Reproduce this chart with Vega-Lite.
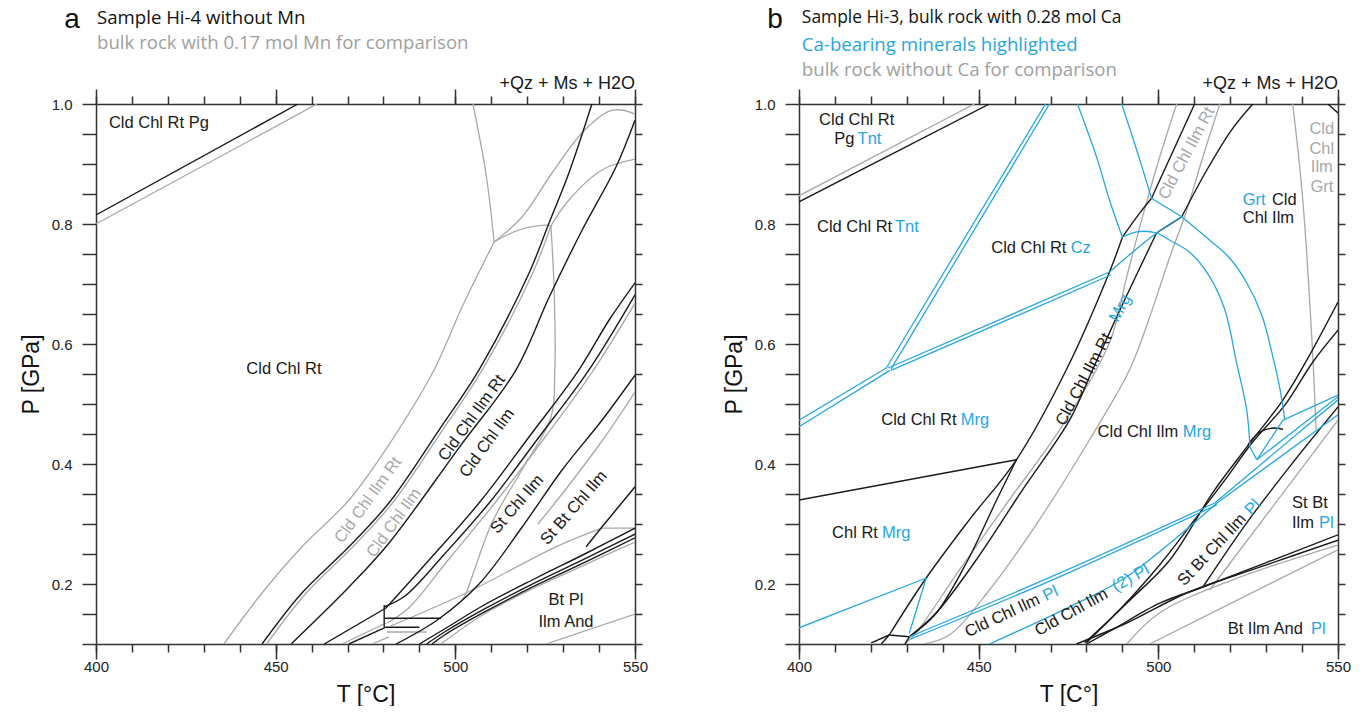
{
"$schema":"https://vega.github.io/schema/vega-lite/v6.json",
"padding":{"left":20,"top":6,"right":0,"bottom":0},
"background":"white",
"spacing":164,
"bounds":"flush",
"config":{"view":{"stroke":null},"text":{"font":"Liberation Sans"}},
"datasets":{
"a_g":[
{"id":"g1","o":0,"T":400,"P":0.8},{"id":"g1","o":1,"T":461.5,"P":1.0},
{"id":"g2","o":0,"T":435.6,"P":0.1},{"id":"g2","o":1,"T":446.2,"P":0.185},{"id":"g2","o":2,"T":457.3,"P":0.262},{"id":"g2","o":3,"T":470.4,"P":0.34},{"id":"g2","o":4,"T":481.5,"P":0.432},{"id":"g2","o":5,"T":494.1,"P":0.557},{"id":"g2","o":6,"T":501.9,"P":0.662},{"id":"g2","o":7,"T":510.8,"P":0.77},
{"id":"g3","o":0,"T":504.9,"P":1.0},{"id":"g3","o":1,"T":508.5,"P":0.885},{"id":"g3","o":2,"T":510.8,"P":0.77},
{"id":"g4","o":0,"T":510.8,"P":0.77},{"id":"g4","o":1,"T":518.6,"P":0.812},{"id":"g4","o":2,"T":526.9,"P":0.885},{"id":"g4","o":3,"T":535.3,"P":0.952},{"id":"g4","o":4,"T":542.8,"P":0.988},{"id":"g4","o":5,"T":546.4,"P":0.99},{"id":"g4","o":6,"T":550,"P":0.983},
{"id":"g5a","o":0,"T":510.8,"P":0.77},{"id":"g5a","o":1,"T":517.7,"P":0.79},{"id":"g5a","o":2,"T":525.2,"P":0.798},{"id":"g5a","o":3,"T":526.6,"P":0.797},
{"id":"g5b","o":0,"T":526.6,"P":0.797},{"id":"g5b","o":1,"T":531.6,"P":0.84},{"id":"g5b","o":2,"T":540.8,"P":0.89},{"id":"g5b","o":3,"T":550,"P":0.908},
{"id":"g6","o":0,"T":526.6,"P":0.797},{"id":"g6","o":1,"T":527.5,"P":0.69},{"id":"g6","o":2,"T":527.7,"P":0.557},{"id":"g6","o":3,"T":526.6,"P":0.478},{"id":"g6","o":4,"T":518.5,"P":0.39},{"id":"g6","o":5,"T":510.2,"P":0.302},{"id":"g6","o":6,"T":503.0,"P":0.185},{"id":"g6","o":7,"T":501.9,"P":0.173},
{"id":"gA","o":0,"T":526.6,"P":0.797},{"id":"gA","o":1,"T":521.5,"P":0.718},{"id":"gA","o":2,"T":507.5,"P":0.557},{"id":"gA","o":3,"T":496.5,"P":0.457},{"id":"gA","o":4,"T":482.5,"P":0.335},{"id":"gA","o":5,"T":471.5,"P":0.262},{"id":"gA","o":6,"T":458.5,"P":0.185},{"id":"gA","o":7,"T":447.5,"P":0.1},
{"id":"gCD","o":0,"T":550,"P":0.668},{"id":"gCD","o":1,"T":538.5,"P":0.557},{"id":"gCD","o":2,"T":525,"P":0.445},{"id":"gCD","o":3,"T":511,"P":0.335},{"id":"gCD","o":4,"T":498,"P":0.24},{"id":"gCD","o":5,"T":487,"P":0.16},{"id":"gCD","o":6,"T":481,"P":0.135},
{"id":"gE","o":0,"T":550,"P":0.52},{"id":"gE","o":1,"T":541,"P":0.44},{"id":"gE","o":2,"T":531,"P":0.36},{"id":"gE","o":3,"T":523,"P":0.3},
{"id":"gB1a","o":0,"T":550,"P":0.293},{"id":"gB1a","o":1,"T":540.8,"P":0.293},
{"id":"gB1b","o":0,"T":540.8,"P":0.293},{"id":"gB1b","o":1,"T":528,"P":0.262},{"id":"gB1b","o":2,"T":503,"P":0.185},{"id":"gB1b","o":3,"T":482,"P":0.13},
{"id":"gB2","o":0,"T":550,"P":0.27},{"id":"gB2","o":1,"T":536,"P":0.232},{"id":"gB2","o":2,"T":522.5,"P":0.195},{"id":"gB2","o":3,"T":508,"P":0.15},{"id":"gB2","o":4,"T":496,"P":0.1},
{"id":"gP1","o":0,"T":468.5,"P":0.1},{"id":"gP1","o":1,"T":480.7,"P":0.135},
{"id":"gP2","o":0,"T":476.8,"P":0.1},{"id":"gP2","o":1,"T":481.5,"P":0.112},
{"id":"gP3","o":0,"T":481,"P":0.12},{"id":"gP3","o":1,"T":492,"P":0.12},
{"id":"g7","o":0,"T":525.2,"P":0.1},{"id":"g7","o":1,"T":550,"P":0.15}
],
"a_k":[
{"id":"k1","o":0,"T":400,"P":0.815},{"id":"k1","o":1,"T":456.2,"P":1.0},
{"id":"kA","o":0,"T":446.2,"P":0.1},{"id":"kA","o":1,"T":457.3,"P":0.185},{"id":"kA","o":2,"T":470.4,"P":0.262},{"id":"kA","o":3,"T":481.5,"P":0.335},{"id":"kA","o":4,"T":495.5,"P":0.457},{"id":"kA","o":5,"T":506.6,"P":0.557},{"id":"kA","o":6,"T":520.5,"P":0.718},{"id":"kA","o":7,"T":526.1,"P":0.802},{"id":"kA","o":8,"T":531.6,"P":0.885},{"id":"kA","o":9,"T":538.0,"P":1.0},
{"id":"kB","o":0,"T":454.3,"P":0.1},{"id":"kB","o":1,"T":470.4,"P":0.195},{"id":"kB","o":2,"T":481.5,"P":0.268},{"id":"kB","o":3,"T":501,"P":0.427},{"id":"kB","o":4,"T":516.9,"P":0.557},{"id":"kB","o":5,"T":526.1,"P":0.678},{"id":"kB","o":6,"T":535.3,"P":0.79},{"id":"kB","o":7,"T":544.7,"P":0.895},{"id":"kB","o":8,"T":550,"P":0.973},
{"id":"kCa","o":0,"T":463.5,"P":0.1},{"id":"kCa","o":1,"T":480.7,"P":0.16},
{"id":"kCb","o":0,"T":480.7,"P":0.16},{"id":"kCb","o":1,"T":492.7,"P":0.24},{"id":"kCb","o":2,"T":506.6,"P":0.335},{"id":"kCb","o":3,"T":520.5,"P":0.445},{"id":"kCb","o":4,"T":534.4,"P":0.557},{"id":"kCb","o":5,"T":542.8,"P":0.64},{"id":"kCb","o":6,"T":550,"P":0.702},
{"id":"kD","o":0,"T":480.2,"P":0.162},{"id":"kD","o":1,"T":486,"P":0.18},{"id":"kD","o":2,"T":497,"P":0.25},{"id":"kD","o":3,"T":509.4,"P":0.335},{"id":"kD","o":4,"T":523.3,"P":0.445},{"id":"kD","o":5,"T":537.2,"P":0.557},{"id":"kD","o":6,"T":550,"P":0.682},
{"id":"kE","o":0,"T":483.5,"P":0.1},{"id":"kE","o":1,"T":495,"P":0.14},{"id":"kE","o":2,"T":506.6,"P":0.2},{"id":"kE","o":3,"T":518.6,"P":0.295},{"id":"kE","o":4,"T":529.7,"P":0.39},{"id":"kE","o":5,"T":540.8,"P":0.473},{"id":"kE","o":6,"T":550,"P":0.548},
{"id":"kF","o":0,"T":536.4,"P":0.262},{"id":"kF","o":1,"T":540.8,"P":0.295},{"id":"kF","o":2,"T":550,"P":0.362},
{"id":"kb1","o":0,"T":490,"P":0.1},{"id":"kb1","o":1,"T":497,"P":0.125},{"id":"kb1","o":2,"T":508,"P":0.165},{"id":"kb1","o":3,"T":522.5,"P":0.21},{"id":"kb1","o":4,"T":536,"P":0.25},{"id":"kb1","o":5,"T":550,"P":0.293},
{"id":"kb2","o":0,"T":492,"P":0.1},{"id":"kb2","o":1,"T":497,"P":0.12},{"id":"kb2","o":2,"T":508,"P":0.158},{"id":"kb2","o":3,"T":522.5,"P":0.203},{"id":"kb2","o":4,"T":536,"P":0.242},{"id":"kb2","o":5,"T":550,"P":0.283},
{"id":"kb3","o":0,"T":493.5,"P":0.1},{"id":"kb3","o":1,"T":497,"P":0.115},{"id":"kb3","o":2,"T":508,"P":0.153},{"id":"kb3","o":3,"T":522.5,"P":0.198},{"id":"kb3","o":4,"T":536,"P":0.236},{"id":"kb3","o":5,"T":550,"P":0.277},
{"id":"kP1","o":0,"T":480.2,"P":0.128},{"id":"kP1","o":1,"T":480.2,"P":0.165},
{"id":"kP2","o":0,"T":480.2,"P":0.143},{"id":"kP2","o":1,"T":496,"P":0.143},
{"id":"kP3a","o":0,"T":470.4,"P":0.1},{"id":"kP3a","o":1,"T":480.7,"P":0.128},
{"id":"kP3b","o":0,"T":480.7,"P":0.128},{"id":"kP3b","o":1,"T":490,"P":0.128}
],
"b_g":[
{"id":"g1","o":0,"T":400,"P":0.847},{"id":"g1","o":1,"T":448.8,"P":1.0},
{"id":"gL","o":0,"T":505.1,"P":1.0},{"id":"gL","o":1,"T":500.4,"P":0.912},{"id":"gL","o":2,"T":495.6,"P":0.812},{"id":"gL","o":3,"T":491.2,"P":0.712},{"id":"gL","o":4,"T":486.4,"P":0.602},{"id":"gL","o":5,"T":472.5,"P":0.457},{"id":"gL","o":6,"T":458.5,"P":0.34},{"id":"gL","o":7,"T":444.6,"P":0.223},{"id":"gL","o":8,"T":432.1,"P":0.115},{"id":"gL","o":9,"T":429.3,"P":0.1},
{"id":"gR","o":0,"T":517.1,"P":1.0},{"id":"gR","o":1,"T":512.4,"P":0.912},{"id":"gR","o":2,"T":507.9,"P":0.823},{"id":"gR","o":3,"T":503.2,"P":0.745},{"id":"gR","o":4,"T":497.6,"P":0.645},{"id":"gR","o":5,"T":492,"P":0.557},{"id":"gR","o":6,"T":480.8,"P":0.44},{"id":"gR","o":7,"T":466.9,"P":0.307},{"id":"gR","o":8,"T":453,"P":0.19},{"id":"gR","o":9,"T":441.8,"P":0.115},{"id":"gR","o":10,"T":434.8,"P":0.1},
{"id":"gG","o":0,"T":537.4,"P":1.0},{"id":"gG","o":1,"T":540.2,"P":0.84},{"id":"gG","o":2,"T":543,"P":0.578},{"id":"gG","o":3,"T":543.9,"P":0.457},
{"id":"gS","o":0,"T":550,"P":0.473},{"id":"gS","o":1,"T":514.3,"P":0.19},
{"id":"gb1","o":0,"T":550,"P":0.265},{"id":"gb1","o":1,"T":520.7,"P":0.207},{"id":"gb1","o":2,"T":500.4,"P":0.152},{"id":"gb1","o":3,"T":491.2,"P":0.1},
{"id":"gb2","o":0,"T":550,"P":0.257},{"id":"gb2","o":1,"T":497.6,"P":0.1}
],
"b_k":[
{"id":"k1","o":0,"T":400,"P":0.837},{"id":"k1","o":1,"T":453,"P":1.0},
{"id":"kLBa","o":0,"T":420.1,"P":0.102},{"id":"kLBa","o":1,"T":425.1,"P":0.115},
{"id":"kLBb","o":0,"T":425.1,"P":0.115},{"id":"kLBb","o":1,"T":435.4,"P":0.21},{"id":"kLBb","o":2,"T":447.4,"P":0.307},{"id":"kLBb","o":3,"T":460.5,"P":0.407},{"id":"kLBb","o":4,"T":474.4,"P":0.557},{"id":"kLBb","o":5,"T":486.4,"P":0.72},{"id":"kLBb","o":6,"T":490,"P":0.778},
{"id":"kLBc","o":0,"T":490,"P":0.778},{"id":"kLBc","o":1,"T":494.8,"P":0.818},{"id":"kLBc","o":2,"T":498.1,"P":0.843},
{"id":"kLBd","o":0,"T":498.1,"P":0.843},{"id":"kLBd","o":1,"T":510.1,"P":1.0},
{"id":"kRBa","o":0,"T":430.7,"P":0.112},{"id":"kRBa","o":1,"T":438.2,"P":0.152},{"id":"kRBa","o":2,"T":449.3,"P":0.24},{"id":"kRBa","o":3,"T":462.2,"P":0.357},{"id":"kRBa","o":4,"T":475.3,"P":0.473},{"id":"kRBa","o":5,"T":481.7,"P":0.557},{"id":"kRBa","o":6,"T":490.5,"P":0.672},{"id":"kRBa","o":7,"T":499.5,"P":0.785},
{"id":"kRBb","o":0,"T":499.5,"P":0.785},{"id":"kRBb","o":1,"T":506.5,"P":0.812},
{"id":"kRBc","o":0,"T":506.5,"P":0.812},{"id":"kRBc","o":1,"T":513.5,"P":0.89},{"id":"kRBc","o":2,"T":520.4,"P":0.957},{"id":"kRBc","o":3,"T":526.3,"P":1.0},
{"id":"k2","o":0,"T":400,"P":0.34},{"id":"k2","o":1,"T":460.5,"P":0.407},
{"id":"k6","o":0,"T":460.5,"P":0.407},{"id":"k6","o":1,"T":455,"P":0.34},{"id":"k6","o":2,"T":447,"P":0.24},{"id":"k6","o":3,"T":438,"P":0.15},{"id":"k6","o":4,"T":430.7,"P":0.112},
{"id":"kb1","o":0,"T":422.9,"P":0.1},{"id":"kb1","o":1,"T":425.1,"P":0.115},
{"id":"kb2","o":0,"T":425.1,"P":0.115},{"id":"kb2","o":1,"T":430.7,"P":0.112},
{"id":"kb3","o":0,"T":430.7,"P":0.112},{"id":"kb3","o":1,"T":429.5,"P":0.1},
{"id":"kC","o":0,"T":547.2,"P":1.0},{"id":"kC","o":1,"T":550,"P":0.985},
{"id":"k3","o":0,"T":480,"P":0.102},{"id":"k3","o":1,"T":491.2,"P":0.168},{"id":"k3","o":2,"T":503.2,"P":0.24},{"id":"k3","o":3,"T":515.1,"P":0.352},{"id":"k3","o":4,"T":524.6,"P":0.428},{"id":"k3","o":5,"T":534.7,"P":0.507},{"id":"k3","o":6,"T":541.3,"P":0.573},{"id":"k3","o":7,"T":550,"P":0.67},
{"id":"k4","o":0,"T":479.5,"P":0.102},{"id":"k4","o":1,"T":489.2,"P":0.157},{"id":"k4","o":2,"T":500.4,"P":0.232},{"id":"k4","o":3,"T":510.1,"P":0.307},{"id":"k4","o":4,"T":518.5,"P":0.373},{"id":"k4","o":5,"T":526.3,"P":0.437},{"id":"k4","o":6,"T":535.2,"P":0.498},{"id":"k4","o":7,"T":543,"P":0.57},{"id":"k4","o":8,"T":550,"P":0.623},
{"id":"k5","o":0,"T":524.9,"P":0.432},{"id":"k5","o":1,"T":528.2,"P":0.453},{"id":"k5","o":2,"T":531.9,"P":0.46},{"id":"k5","o":3,"T":534.7,"P":0.458},
{"id":"kS","o":0,"T":512.4,"P":0.195},{"id":"kS","o":1,"T":524.6,"P":0.302},{"id":"kS","o":2,"T":537.4,"P":0.402},{"id":"kS","o":3,"T":550,"P":0.495},
{"id":"kband1","o":0,"T":480,"P":0.1},{"id":"kband1","o":1,"T":487,"P":0.123},{"id":"kband1","o":2,"T":500.4,"P":0.168},{"id":"kband1","o":3,"T":512.4,"P":0.195},{"id":"kband1","o":4,"T":550,"P":0.282},
{"id":"kband2","o":0,"T":477.2,"P":0.1},{"id":"kband2","o":1,"T":491.2,"P":0.135},{"id":"kband2","o":2,"T":507.9,"P":0.185},{"id":"kband2","o":3,"T":528.2,"P":0.228},{"id":"kband2","o":4,"T":550,"P":0.273}
],
"b_b":[
{"id":"b1","o":0,"T":424.3,"P":0.56},{"id":"b1","o":1,"T":468.6,"P":1.0},
{"id":"b2","o":0,"T":425.6,"P":0.558},{"id":"b2","o":1,"T":469.7,"P":1.0},
{"id":"b3","o":0,"T":400,"P":0.473},{"id":"b3","o":1,"T":424.3,"P":0.56},
{"id":"b4","o":0,"T":400,"P":0.462},{"id":"b4","o":1,"T":425.3,"P":0.556},
{"id":"b5a","o":0,"T":424.8,"P":0.56},{"id":"b5a","o":1,"T":486.4,"P":0.72},
{"id":"b5b","o":0,"T":486.4,"P":0.72},{"id":"b5b","o":1,"T":499.5,"P":0.785},{"id":"b5b","o":2,"T":506.5,"P":0.812},
{"id":"b6","o":0,"T":425.6,"P":0.556},{"id":"b6","o":1,"T":486.8,"P":0.715},
{"id":"b7","o":0,"T":477.5,"P":1.0},{"id":"b7","o":1,"T":482.8,"P":0.912},{"id":"b7","o":2,"T":486.4,"P":0.84},{"id":"b7","o":3,"T":490,"P":0.778},
{"id":"b8a","o":0,"T":490,"P":0.778},{"id":"b8a","o":1,"T":494,"P":0.787},{"id":"b8a","o":2,"T":499.5,"P":0.785},{"id":"b8a","o":3,"T":503.2,"P":0.773},{"id":"b8a","o":4,"T":508.7,"P":0.753},{"id":"b8a","o":5,"T":514.3,"P":0.712},{"id":"b8a","o":6,"T":518.5,"P":0.657},{"id":"b8a","o":7,"T":521.8,"P":0.568},{"id":"b8a","o":8,"T":524.6,"P":0.49},{"id":"b8a","o":9,"T":525.5,"P":0.428},
{"id":"b8b","o":0,"T":525.5,"P":0.428},{"id":"b8b","o":1,"T":527.4,"P":0.407},
{"id":"b9a","o":0,"T":489.8,"P":1.0},{"id":"b9a","o":1,"T":494,"P":0.923},{"id":"b9a","o":2,"T":498.1,"P":0.843},
{"id":"b9b","o":0,"T":498.1,"P":0.843},{"id":"b9b","o":1,"T":506.5,"P":0.812},
{"id":"b9c","o":0,"T":506.5,"P":0.812},{"id":"b9c","o":1,"T":514.3,"P":0.773},{"id":"b9c","o":2,"T":519.9,"P":0.743},{"id":"b9c","o":3,"T":524.6,"P":0.702},{"id":"b9c","o":4,"T":528.8,"P":0.648},{"id":"b9c","o":5,"T":531.9,"P":0.578},{"id":"b9c","o":6,"T":533.9,"P":0.523},{"id":"b9c","o":7,"T":535.2,"P":0.473},
{"id":"b10a","o":0,"T":550,"P":0.515},{"id":"b10a","o":1,"T":534.7,"P":0.473},
{"id":"b10b","o":0,"T":534.7,"P":0.473},{"id":"b10b","o":1,"T":527.4,"P":0.407},
{"id":"b11","o":0,"T":550,"P":0.512},{"id":"b11","o":1,"T":527.4,"P":0.407},
{"id":"b12","o":0,"T":550,"P":0.507},{"id":"b12","o":1,"T":515.7,"P":0.335},
{"id":"b13","o":0,"T":550,"P":0.482},{"id":"b13","o":1,"T":516.3,"P":0.335},
{"id":"b14","o":0,"T":515.7,"P":0.335},{"id":"b14","o":1,"T":472.5,"P":0.218},{"id":"b14","o":2,"T":430.7,"P":0.112},
{"id":"b14b","o":0,"T":516.3,"P":0.332},{"id":"b14b","o":1,"T":472.5,"P":0.212},{"id":"b14b","o":2,"T":431,"P":0.108},
{"id":"b15","o":0,"T":453,"P":0.1},{"id":"b15","o":1,"T":475.3,"P":0.162},{"id":"b15","o":2,"T":491.2,"P":0.212},{"id":"b15","o":3,"T":516.3,"P":0.335},
{"id":"b16a","o":0,"T":400,"P":0.127},{"id":"b16a","o":1,"T":435.4,"P":0.21},
{"id":"b16b","o":0,"T":435.4,"P":0.21},{"id":"b16b","o":1,"T":430.7,"P":0.118}
]
},
"hconcat":[
{
"width":539,"height":540,
"resolve":{"axis":{"x":"independent","y":"independent"}},
"layer":[
{"data":{"name":"a_g"},"mark":{"type":"line","clip":true,"stroke":"#a8a8a8","strokeWidth":1.3,"interpolate":"catmull-rom"},
 "encoding":{
  "x":{"field":"T","type":"quantitative","scale":{"domain":[400,550],"nice":false,"zero":false},
   "axis":{"orient":"bottom","values":[400,450,500,550],"tickSize":15,"tickWidth":1.5,"tickColor":"#333","domainColor":"#333","domainWidth":1.5,"grid":false,"labelFont":"Liberation Sans","labelFontSize":15,"labelColor":"#222","labelPadding":0,"labelFlush":false,"title":"T [°C]","titleFont":"Liberation Sans","titleFontSize":23,"titleFontWeight":"normal","titleColor":"#111","titlePadding":9}},
  "y":{"field":"P","type":"quantitative","scale":{"domain":[0.1,1.0],"nice":false,"zero":false},
   "axis":{"orient":"left","values":[0.1,0.15,0.2,0.25,0.3,0.35,0.4,0.45,0.5,0.55,0.6,0.65,0.7,0.75,0.8,0.85,0.9,0.95,1.0],"labelExpr":"round(datum.value*100) % 20 === 0 ? format(datum.value, '.1f') : ''","tickSize":14,"tickWidth":1.5,"tickColor":"#333","domainColor":"#333","domainWidth":1.5,"grid":false,"labelFont":"Liberation Sans","labelFontSize":15,"labelColor":"#222","labelPadding":10,"labelFlush":false,"labelOverlap":false,"title":"P [GPa]","titleFont":"Liberation Sans","titleFontSize":23,"titleFontWeight":"normal","titleColor":"#111","titlePadding":8}},
  "detail":{"field":"id"},"order":{"field":"o","type":"quantitative"}}},
{"data":{"name":"a_k"},"mark":{"type":"line","clip":true,"stroke":"#1a1a1a","strokeWidth":1.4,"interpolate":"catmull-rom"},
 "encoding":{
  "x":{"field":"T","type":"quantitative","scale":{"domain":[400,550],"nice":false,"zero":false},
   "axis":{"orient":"top","values":[400,450,500,550],"tickSize":15,"tickWidth":1.5,"tickColor":"#333","domainColor":"#333","domainWidth":1.5,"grid":false,"labels":false,"title":null}},
  "y":{"field":"P","type":"quantitative","scale":{"domain":[0.1,1.0],"nice":false,"zero":false},
   "axis":{"orient":"right","values":[0.1,0.15,0.2,0.25,0.3,0.35,0.4,0.45,0.5,0.55,0.6,0.65,0.7,0.75,0.8,0.85,0.9,0.95,1.0],"tickSize":7,"tickWidth":1.5,"tickColor":"#333","domainColor":"#333","domainWidth":1.5,"grid":false,"labels":false,"title":null}},
  "detail":{"field":"id"},"order":{"field":"o","type":"quantitative"}}},
{"data":{"values":[{"T":417.5,"P":0.968,"t":"Cld Chl Rt Pg"},{"T":452.3,"P":0.558,"t":"Cld Chl Rt"},{"T":530.8,"P":0.173,"t":"Bt Pl"},{"T":530.8,"P":0.137,"t":"Ilm And"}]},
 "mark":{"type":"text","fontSize":16.5,"color":"#1a1a1a","align":"center","baseline":"middle"},
 "encoding":{"x":{"field":"T","type":"quantitative","scale":{"domain":[400,550],"nice":false,"zero":false},
   "axis":{"orient":"bottom","values":[400,410,420,430,440,450,460,470,480,490,500,510,520,530,540,550],"tickSize":8,"tickWidth":1.5,"tickColor":"#333","domain":false,"grid":false,"labels":false,"title":null}},
  "y":{"field":"P","type":"quantitative","scale":{"domain":[0.1,1.0],"nice":false,"zero":false},"axis":null},"text":{"field":"t"}}},
{"data":{"values":[{"T":550,"P":1.0333,"t":"+Qz + Ms + H2O"}]},
 "mark":{"type":"text","fontSize":18,"color":"#1a1a1a","align":"right","baseline":"middle"},
 "encoding":{"x":{"field":"T","type":"quantitative","scale":{"domain":[400,550],"nice":false,"zero":false},
   "axis":{"orient":"top","values":[400,410,420,430,440,450,460,470,480,490,500,510,520,530,540,550],"tickSize":8,"tickWidth":1.5,"tickColor":"#333","domain":false,"grid":false,"labels":false,"title":null}},
  "y":{"field":"P","type":"quantitative","scale":{"domain":[0.1,1.0],"nice":false,"zero":false},"axis":null},"text":{"field":"t"}}},
{"data":{"values":[{"T":393.3,"P":1.14,"t":"a"}]},
 "mark":{"type":"text","font":"Liberation Sans","fontSize":28,"color":"#111","align":"center","baseline":"middle"},
 "encoding":{"x":{"field":"T","type":"quantitative","scale":{"domain":[400,550],"nice":false,"zero":false},"axis":null},
  "y":{"field":"P","type":"quantitative","scale":{"domain":[0.1,1.0],"nice":false,"zero":false},"axis":null},"text":{"field":"t"}}},
{"data":{"values":[{"T":400.3,"P":1.1433,"t":"Sample Hi-4 without Mn"}]},
 "mark":{"type":"text","font":"Open Sans","fontSize":18.6,"color":"#111","align":"left","baseline":"middle"},
 "encoding":{"x":{"field":"T","type":"quantitative","scale":{"domain":[400,550],"nice":false,"zero":false},"axis":null},
  "y":{"field":"P","type":"quantitative","scale":{"domain":[0.1,1.0],"nice":false,"zero":false},"axis":null},"text":{"field":"t"}}},
{"data":{"values":[{"T":400.3,"P":1.1017,"t":"bulk rock with 0.17 mol Mn for comparison"}]},
 "mark":{"type":"text","font":"Open Sans","fontSize":18.6,"color":"#a0a0a0","align":"left","baseline":"middle"},
 "encoding":{"x":{"field":"T","type":"quantitative","scale":{"domain":[400,550],"nice":false,"zero":false},"axis":null},
  "y":{"field":"P","type":"quantitative","scale":{"domain":[0.1,1.0],"nice":false,"zero":false},"axis":null},"text":{"field":"t"}}},
{"data":{"values":[{"T":475.7,"P":0.34,"t":"Cld Chl Ilm Rt"},{"T":482.9,"P":0.302,"t":"Cld Chl Ilm"}]},
 "mark":{"type":"text","fontSize":16.5,"color":"#a8a8a8","align":"center","baseline":"middle","angle":306},
 "encoding":{"x":{"field":"T","type":"quantitative","scale":{"domain":[400,550],"nice":false,"zero":false},"axis":null},
  "y":{"field":"P","type":"quantitative","scale":{"domain":[0.1,1.0],"nice":false,"zero":false},"axis":null},"text":{"field":"t"}}},
{"data":{"values":[{"T":504.6,"P":0.477,"t":"Cld Chl Ilm Rt"},{"T":508.8,"P":0.435,"t":"Cld Chl Ilm"}]},
 "mark":{"type":"text","fontSize":16.5,"color":"#1a1a1a","align":"center","baseline":"middle","angle":306},
 "encoding":{"x":{"field":"T","type":"quantitative","scale":{"domain":[400,550],"nice":false,"zero":false},"axis":null},
  "y":{"field":"P","type":"quantitative","scale":{"domain":[0.1,1.0],"nice":false,"zero":false},"axis":null},"text":{"field":"t"}}},
{"data":{"values":[{"T":517.2,"P":0.333,"t":"St Chl Ilm"},{"T":533.0,"P":0.327,"t":"St Bt Chl Ilm"}]},
 "mark":{"type":"text","fontSize":16.5,"color":"#1a1a1a","align":"center","baseline":"middle","angle":311},
 "encoding":{"x":{"field":"T","type":"quantitative","scale":{"domain":[400,550],"nice":false,"zero":false},"axis":null},
  "y":{"field":"P","type":"quantitative","scale":{"domain":[0.1,1.0],"nice":false,"zero":false},"axis":null},"text":{"field":"t"}}}
]
},
{
"width":539,"height":540,
"resolve":{"axis":{"x":"independent","y":"independent"}},
"layer":[
{"data":{"name":"b_g"},"mark":{"type":"line","clip":true,"stroke":"#a8a8a8","strokeWidth":1.3,"interpolate":"catmull-rom"},
 "encoding":{
  "x":{"field":"T","type":"quantitative","scale":{"domain":[400,550],"nice":false,"zero":false},
   "axis":{"orient":"bottom","values":[400,450,500,550],"tickSize":15,"tickWidth":1.5,"tickColor":"#333","domainColor":"#333","domainWidth":1.5,"grid":false,"labelFont":"Liberation Sans","labelFontSize":15,"labelColor":"#222","labelPadding":0,"labelFlush":false,"title":"T [C°]","titleFont":"Liberation Sans","titleFontSize":23,"titleFontWeight":"normal","titleColor":"#111","titlePadding":9}},
  "y":{"field":"P","type":"quantitative","scale":{"domain":[0.1,1.0],"nice":false,"zero":false},
   "axis":{"orient":"left","values":[0.1,0.15,0.2,0.25,0.3,0.35,0.4,0.45,0.5,0.55,0.6,0.65,0.7,0.75,0.8,0.85,0.9,0.95,1.0],"labelExpr":"round(datum.value*100) % 20 === 0 ? format(datum.value, '.1f') : ''","tickSize":14,"tickWidth":1.5,"tickColor":"#333","domainColor":"#333","domainWidth":1.5,"grid":false,"labelFont":"Liberation Sans","labelFontSize":15,"labelColor":"#222","labelPadding":10,"labelFlush":false,"labelOverlap":false,"title":"P [GPa]","titleFont":"Liberation Sans","titleFontSize":23,"titleFontWeight":"normal","titleColor":"#111","titlePadding":8}},
  "detail":{"field":"id"},"order":{"field":"o","type":"quantitative"}}},
{"data":{"name":"b_k"},"mark":{"type":"line","clip":true,"stroke":"#1a1a1a","strokeWidth":1.4,"interpolate":"catmull-rom"},
 "encoding":{
  "x":{"field":"T","type":"quantitative","scale":{"domain":[400,550],"nice":false,"zero":false},
   "axis":{"orient":"top","values":[400,450,500,550],"tickSize":15,"tickWidth":1.5,"tickColor":"#333","domainColor":"#333","domainWidth":1.5,"grid":false,"labels":false,"title":null}},
  "y":{"field":"P","type":"quantitative","scale":{"domain":[0.1,1.0],"nice":false,"zero":false},
   "axis":{"orient":"right","values":[0.1,0.15,0.2,0.25,0.3,0.35,0.4,0.45,0.5,0.55,0.6,0.65,0.7,0.75,0.8,0.85,0.9,0.95,1.0],"tickSize":7,"tickWidth":1.5,"tickColor":"#333","domainColor":"#333","domainWidth":1.5,"grid":false,"labels":false,"title":null}},
  "detail":{"field":"id"},"order":{"field":"o","type":"quantitative"}}},
{"data":{"name":"b_b"},"mark":{"type":"line","clip":true,"stroke":"#27a6e0","strokeWidth":1.3,"interpolate":"catmull-rom"},
 "encoding":{
  "x":{"field":"T","type":"quantitative","scale":{"domain":[400,550],"nice":false,"zero":false},
   "axis":{"orient":"bottom","values":[400,410,420,430,440,450,460,470,480,490,500,510,520,530,540,550],"tickSize":8,"tickWidth":1.5,"tickColor":"#333","domain":false,"grid":false,"labels":false,"title":null}},
  "y":{"field":"P","type":"quantitative","scale":{"domain":[0.1,1.0],"nice":false,"zero":false},"axis":null},
  "detail":{"field":"id"},"order":{"field":"o","type":"quantitative"}}},
{"data":{"values":[{"T":550,"P":1.0333,"t":"+Qz + Ms + H2O"}]},
 "mark":{"type":"text","fontSize":18,"color":"#1a1a1a","align":"right","baseline":"middle"},
 "encoding":{"x":{"field":"T","type":"quantitative","scale":{"domain":[400,550],"nice":false,"zero":false},
   "axis":{"orient":"top","values":[400,410,420,430,440,450,460,470,480,490,500,510,520,530,540,550],"tickSize":8,"tickWidth":1.5,"tickColor":"#333","domain":false,"grid":false,"labels":false,"title":null}},
  "y":{"field":"P","type":"quantitative","scale":{"domain":[0.1,1.0],"nice":false,"zero":false},"axis":null},"text":{"field":"t"}}},
{"data":{"values":[{"T":393.3,"P":1.14,"t":"b"}]},
 "mark":{"type":"text","font":"Liberation Sans","fontSize":28,"color":"#111","align":"center","baseline":"middle"},
 "encoding":{"x":{"field":"T","type":"quantitative","scale":{"domain":[400,550],"nice":false,"zero":false},"axis":null},
  "y":{"field":"P","type":"quantitative","scale":{"domain":[0.1,1.0],"nice":false,"zero":false},"axis":null},"text":{"field":"t"}}},
{"data":{"values":[{"T":400.8,"P":1.1433,"t":"Sample Hi-3, bulk rock with 0.28 mol Ca"}]},
 "mark":{"type":"text","font":"Open Sans","fontSize":17.4,"color":"#111","align":"left","baseline":"middle"},
 "encoding":{"x":{"field":"T","type":"quantitative","scale":{"domain":[400,550],"nice":false,"zero":false},"axis":null},
  "y":{"field":"P","type":"quantitative","scale":{"domain":[0.1,1.0],"nice":false,"zero":false},"axis":null},"text":{"field":"t"}}},
{"data":{"values":[{"T":400.8,"P":1.0983,"t":"Ca-bearing minerals highlighted"}]},
 "mark":{"type":"text","font":"Open Sans","fontSize":18.6,"color":"#27a6e0","align":"left","baseline":"middle"},
 "encoding":{"x":{"field":"T","type":"quantitative","scale":{"domain":[400,550],"nice":false,"zero":false},"axis":null},
  "y":{"field":"P","type":"quantitative","scale":{"domain":[0.1,1.0],"nice":false,"zero":false},"axis":null},"text":{"field":"t"}}},
{"data":{"values":[{"T":400.8,"P":1.0567,"t":"bulk rock without Ca for comparison"}]},
 "mark":{"type":"text","font":"Open Sans","fontSize":18.6,"color":"#a0a0a0","align":"left","baseline":"middle"},
 "encoding":{"x":{"field":"T","type":"quantitative","scale":{"domain":[400,550],"nice":false,"zero":false},"axis":null},
  "y":{"field":"P","type":"quantitative","scale":{"domain":[0.1,1.0],"nice":false,"zero":false},"axis":null},"text":{"field":"t"}}},
{"data":{"values":[{"T":405.6,"P":0.973,"t":"Cld Chl Rt"},{"T":409.8,"P":0.942,"t":"Pg"},{"T":405.0,"P":0.795,"t":"Cld Chl Rt"},{"T":453.5,"P":0.76,"t":"Cld Chl Rt"},{"T":422.9,"P":0.473,"t":"Cld Chl Rt"},{"T":409.2,"P":0.285,"t":"Chl Rt"},{"T":483.1,"P":0.453,"t":"Cld Chl Ilm"},{"T":531.6,"P":0.84,"t":"Cld"},{"T":523.5,"P":0.81,"t":"Chl Ilm"},{"T":537.2,"P":0.335,"t":"St Bt"},{"T":537.2,"P":0.302,"t":"Ilm"},{"T":519.3,"P":0.125,"t":"Bt Ilm And"}]},
 "mark":{"type":"text","fontSize":16.5,"color":"#1a1a1a","align":"left","baseline":"middle"},
 "encoding":{"x":{"field":"T","type":"quantitative","scale":{"domain":[400,550],"nice":false,"zero":false},"axis":null},
  "y":{"field":"P","type":"quantitative","scale":{"domain":[0.1,1.0],"nice":false,"zero":false},"axis":null},"text":{"field":"t"}}},
{"data":{"values":[{"T":416.3,"P":0.942,"t":"Tnt"},{"T":426.7,"P":0.795,"t":"Tnt"},{"T":475.6,"P":0.76,"t":"Cz"},{"T":445.0,"P":0.473,"t":"Mrg"},{"T":423.1,"P":0.285,"t":"Mrg"},{"T":506.8,"P":0.453,"t":"Mrg"},{"T":523.5,"P":0.84,"t":"Grt"},{"T":544.7,"P":0.302,"t":"Pl"},{"T":542.5,"P":0.125,"t":"Pl"}]},
 "mark":{"type":"text","fontSize":16.5,"color":"#27a6e0","align":"left","baseline":"middle"},
 "encoding":{"x":{"field":"T","type":"quantitative","scale":{"domain":[400,550],"nice":false,"zero":false},"axis":null},
  "y":{"field":"P","type":"quantitative","scale":{"domain":[0.1,1.0],"nice":false,"zero":false},"axis":null},"text":{"field":"t"}}},
{"data":{"values":[{"T":545.5,"P":0.958,"t":"Cld"},{"T":545.5,"P":0.925,"t":"Chl"},{"T":545.5,"P":0.895,"t":"Ilm"},{"T":545.5,"P":0.862,"t":"Grt"}]},
 "mark":{"type":"text","fontSize":16.5,"color":"#a8a8a8","align":"center","baseline":"middle"},
 "encoding":{"x":{"field":"T","type":"quantitative","scale":{"domain":[400,550],"nice":false,"zero":false},"axis":null},
  "y":{"field":"P","type":"quantitative","scale":{"domain":[0.1,1.0],"nice":false,"zero":false},"axis":null},"text":{"field":"t"}}},
{"data":{"values":[{"T":507.9,"P":0.918,"t":"Cld Chl Ilm Rt"}]},
 "mark":{"type":"text","fontSize":16.5,"color":"#a8a8a8","align":"center","baseline":"middle","angle":298},
 "encoding":{"x":{"field":"T","type":"quantitative","scale":{"domain":[400,550],"nice":false,"zero":false},"axis":null},
  "y":{"field":"P","type":"quantitative","scale":{"domain":[0.1,1.0],"nice":false,"zero":false},"axis":null},"text":{"field":"t"}}},
{"data":{"values":[{"T":479.3,"P":0.541,"t":"Cld Chl Ilm Rt"}]},
 "mark":{"type":"text","fontSize":16.5,"color":"#1a1a1a","align":"center","baseline":"middle","angle":298},
 "encoding":{"x":{"field":"T","type":"quantitative","scale":{"domain":[400,550],"nice":false,"zero":false},"axis":null},
  "y":{"field":"P","type":"quantitative","scale":{"domain":[0.1,1.0],"nice":false,"zero":false},"axis":null},"text":{"field":"t"}}},
{"data":{"values":[{"T":489.4,"P":0.66,"t":"Mrg"}]},
 "mark":{"type":"text","fontSize":16.5,"color":"#27a6e0","align":"center","baseline":"middle","angle":298},
 "encoding":{"x":{"field":"T","type":"quantitative","scale":{"domain":[400,550],"nice":false,"zero":false},"axis":null},
  "y":{"field":"P","type":"quantitative","scale":{"domain":[0.1,1.0],"nice":false,"zero":false},"axis":null},"text":{"field":"t"}}},
{"data":{"values":[{"T":514.9,"P":0.257,"t":"St Bt Chl Ilm"}]},
 "mark":{"type":"text","fontSize":16.5,"color":"#1a1a1a","align":"center","baseline":"middle","angle":313},
 "encoding":{"x":{"field":"T","type":"quantitative","scale":{"domain":[400,550],"nice":false,"zero":false},"axis":null},
  "y":{"field":"P","type":"quantitative","scale":{"domain":[0.1,1.0],"nice":false,"zero":false},"axis":null},"text":{"field":"t"}}},
{"data":{"values":[{"T":526.3,"P":0.328,"t":"Pl"}]},
 "mark":{"type":"text","fontSize":16.5,"color":"#27a6e0","align":"center","baseline":"middle","angle":313},
 "encoding":{"x":{"field":"T","type":"quantitative","scale":{"domain":[400,550],"nice":false,"zero":false},"axis":null},
  "y":{"field":"P","type":"quantitative","scale":{"domain":[0.1,1.0],"nice":false,"zero":false},"axis":null},"text":{"field":"t"}}},
{"data":{"values":[{"T":456.6,"P":0.147,"t":"Cld Chl Ilm"}]},
 "mark":{"type":"text","fontSize":16.5,"color":"#1a1a1a","align":"center","baseline":"middle","angle":335},
 "encoding":{"x":{"field":"T","type":"quantitative","scale":{"domain":[400,550],"nice":false,"zero":false},"axis":null},
  "y":{"field":"P","type":"quantitative","scale":{"domain":[0.1,1.0],"nice":false,"zero":false},"axis":null},"text":{"field":"t"}}},
{"data":{"values":[{"T":470.0,"P":0.184,"t":"Pl"}]},
 "mark":{"type":"text","fontSize":16.5,"color":"#27a6e0","align":"center","baseline":"middle","angle":335},
 "encoding":{"x":{"field":"T","type":"quantitative","scale":{"domain":[400,550],"nice":false,"zero":false},"axis":null},
  "y":{"field":"P","type":"quantitative","scale":{"domain":[0.1,1.0],"nice":false,"zero":false},"axis":null},"text":{"field":"t"}}},
{"data":{"values":[{"T":475.8,"P":0.153,"t":"Cld Chl Ilm"}]},
 "mark":{"type":"text","fontSize":16.5,"color":"#1a1a1a","align":"center","baseline":"middle","angle":331},
 "encoding":{"x":{"field":"T","type":"quantitative","scale":{"domain":[400,550],"nice":false,"zero":false},"axis":null},
  "y":{"field":"P","type":"quantitative","scale":{"domain":[0.1,1.0],"nice":false,"zero":false},"axis":null},"text":{"field":"t"}}},
{"data":{"values":[{"T":492.3,"P":0.21,"t":"(2) Pl"}]},
 "mark":{"type":"text","fontSize":16.5,"color":"#27a6e0","align":"center","baseline":"middle","angle":331},
 "encoding":{"x":{"field":"T","type":"quantitative","scale":{"domain":[400,550],"nice":false,"zero":false},"axis":null},
  "y":{"field":"P","type":"quantitative","scale":{"domain":[0.1,1.0],"nice":false,"zero":false},"axis":null},"text":{"field":"t"}}}
]
}
]
}
